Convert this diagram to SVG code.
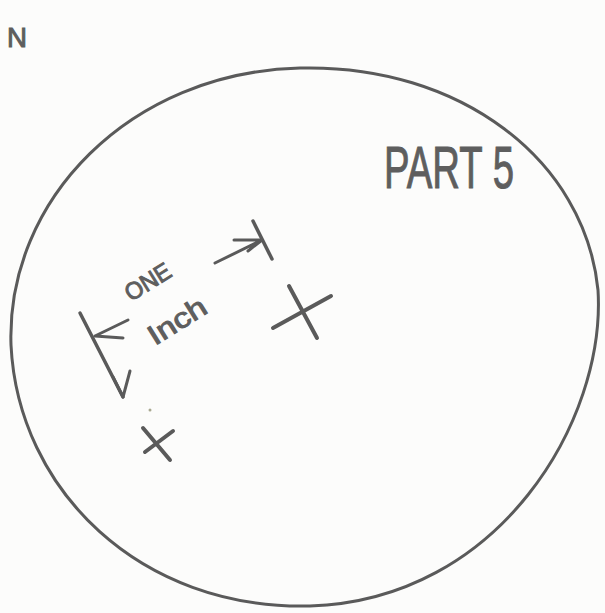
<svg xmlns="http://www.w3.org/2000/svg" width="605" height="613" viewBox="0 0 605 613">
<style>
.s{fill:none;stroke:#5a5a5a;stroke-linecap:round;stroke-linejoin:round}
.t{fill:#5e5e5e;stroke:#5e5e5e;stroke-width:1;font-family:"Liberation Sans",Arial,sans-serif}
</style>
<rect width="605" height="613" fill="#fcfcfb"/>
<g id="boundary">
<path class="s" stroke-width="3" d="M300,68 C460,64 585,160 598,290 C606,420 500,600 310,606 C140,610 18,490 11,345 C6,200 130,72 300,68 Z"/>
</g>
<g id="north"><text class="t" x="7" y="47" font-size="27" textLength="20" lengthAdjust="spacingAndGlyphs">N</text></g>
<g id="title"><text class="t" x="384" y="188" font-size="60" textLength="130" lengthAdjust="spacingAndGlyphs">PART 5</text></g>
<g id="point-a">
<path class="s" stroke-width="4" d="M289,286 L317,338 M273,328 L331,296"/>
</g>
<g id="point-b">
<path class="s" stroke-width="4" d="M143,428 L170,460 M145,452 L173,431"/>
</g>
<g id="dot"><circle cx="150" cy="410" r="1.5" fill="#a8a890"/></g>
<g id="connectors">
<path class="s" stroke-width="3.5" d="M253,221 L272,259"/>
<path class="s" stroke-width="3" d="M215,263 L262,240 M234,240 L262,240 L248,251"/>
<path class="s" stroke-width="3.5" d="M80,313 L123,397"/>
<path class="s" stroke-width="3" d="M95,336 L128,320 M95,336 L123,338"/>
<path class="s" stroke-width="3" d="M113,377 L123,397 L130,371"/>
</g>
<g id="label">
<text class="t" font-size="24" textLength="50" lengthAdjust="spacingAndGlyphs" transform="translate(131,302) rotate(-32)">ONE</text>
<text class="t" font-size="28" textLength="64" lengthAdjust="spacingAndGlyphs" transform="translate(155,346) rotate(-32)">Inch</text>
</g>
</svg>
